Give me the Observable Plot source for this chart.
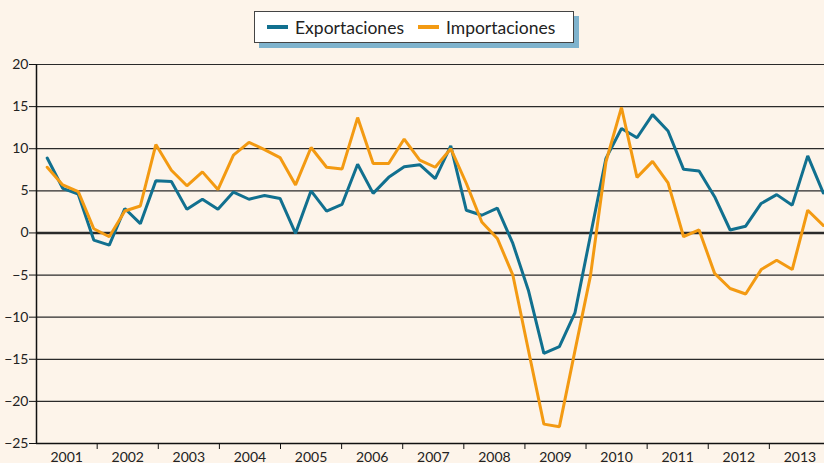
<!DOCTYPE html>
<html><head><meta charset="utf-8">
<script src="https://cdn.jsdelivr.net/npm/d3@7"></script>
<script src="https://cdn.jsdelivr.net/npm/@observablehq/plot@0.6"></script>
<style>
html,body{margin:0;padding:0;background:#fdf4ea;}
#wrap{position:relative;width:824px;height:463px;overflow:hidden;background:#fdf4ea;font-family:Lato,"Open Sans",sans-serif;}
#legend{position:absolute;left:254px;top:11px;width:318px;height:30px;border:1.5px solid #444;background:#fff;box-shadow:5px 5px 0 #7fb3cd;display:flex;align-items:center;font-size:17.5px;color:#222;box-sizing:content-box;}
.sw{display:inline-block;width:21px;height:4px;margin-right:7px;}
.item{display:flex;align-items:center;}
</style>
</head><body>
<div id="wrap"><div id="legend"></div></div>
<script>
const seriesNames = ["Exportaciones", "Importaciones"];
const seriesColors = ["#11708f", "#f39a12"];
const years = [2001,2002,2003,2004,2005,2006,2007,2008,2009,2010,2011,2012,2013];
const yTicks = [20,15,10,5,0,-5,-10,-15,-20,-25];
// quarterly values, 2001 Q1 onward
const exportaciones = [8.9,5.3,4.6,-0.85,-1.45,2.9,1.1,6.2,6.1,2.8,4.0,2.8,4.85,4.0,4.45,4.1,
  -0.05,5.0,2.6,3.4,8.15,4.7,6.6,7.85,8.1,6.45,10.35,2.7,2.1,2.95,-1.25,-6.8,-14.3,-13.5,-9.5,
  -0.3,8.85,12.4,11.3,14.05,12.1,7.55,7.35,4.3,0.35,0.8,3.5,4.55,3.3,9.15,4.75];
const importaciones = [7.8,5.7,4.9,0.5,-0.45,2.6,3.2,10.5,7.45,5.6,7.25,5.15,9.25,10.75,9.9,8.95,
  5.7,10.15,7.8,7.6,13.7,8.25,8.25,11.15,8.65,7.8,10.0,5.9,1.3,-0.65,-5.0,-13.9,-22.7,-23.0,-14.0,
  -5.1,8.45,14.9,6.6,8.5,5.95,-0.45,0.35,-4.8,-6.6,-7.25,-4.35,-3.25,-4.35,2.7,0.9];

// axis geometry: year boundaries in quarter-index units
const yearStep = 3.937, firstBoundary = 3.22;
const boundaries = years.slice(1).map((y,i) => firstBoundary + yearStep*i);
const yearLabel = y => firstBoundary - yearStep/2 + yearStep*(y-2001);

const leg = document.getElementById("legend");
seriesNames.forEach((n,i) => {
  const it = document.createElement("div");
  it.className = "item";
  it.style.marginLeft = i===0 ? "12px" : "14px";
  it.innerHTML = `<span class="sw" style="background:${seriesColors[i]}"></span><span>${n}</span>`;
  leg.appendChild(it);
});

const xMin = -0.69, xMax = 50.08;
const chart = Plot.plot({
  width: 824, height: 463,
  marginLeft: 36, marginRight: 0, marginTop: 64, marginBottom: 20,
  x: {domain: [xMin, xMax], label: null},
  y: {domain: [-25, 20], label: null},
  style: {background: "transparent", fontFamily: "Lato, 'Open Sans', sans-serif", fontSize: "14px", color: "#222", overflow: "visible"},
  marks: [
    Plot.ruleY(yTicks.filter(d => d !== -25), {y: d => d, stroke: "#2a2a2a", strokeOpacity: 1, strokeWidth: d => d === 0 ? 2.6 : 1.2}),
    Plot.lineY(exportaciones, {x: (d,i) => i, y: d => d, stroke: seriesColors[0], strokeWidth: 3, strokeLinejoin: "miter"}),
    Plot.lineY(importaciones, {x: (d,i) => i, y: d => d, stroke: seriesColors[1], strokeWidth: 3, strokeLinejoin: "miter"}),
    Plot.ruleY([-25], {stroke: "#111", strokeWidth: 1.5}),
    Plot.ruleX([xMin], {stroke: "#111", strokeWidth: 1.5}),
    Plot.axisY(yTicks, {tickSize: 7, tickPadding: 1, stroke: "#111", fill: "#222", fontSize: 14}),
    Plot.axisX(boundaries, {tickSize: 6, tickFormat: () => "", stroke: "#111"}),
    Plot.text(years, {x: d => yearLabel(d), y: -25, dy: 14, text: d => String(d), fontSize: 14, fill: "#222"})
  ]
});
document.getElementById("wrap").prepend(chart);
chart.style.position = "absolute"; chart.style.left = "0"; chart.style.top = "0";
</script>
</body></html>
